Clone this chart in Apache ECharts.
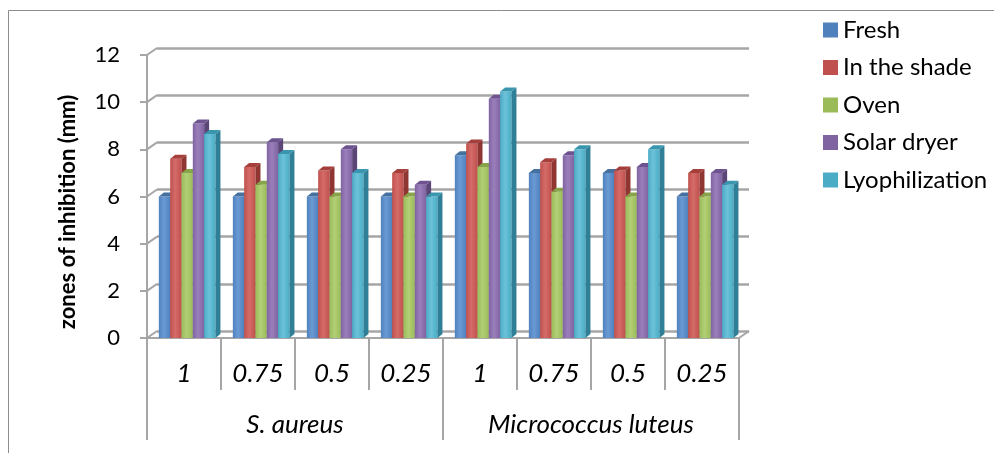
<!DOCTYPE html>
<html>
<head>
<meta charset="utf-8">
<script src="https://cdn.jsdelivr.net/npm/echarts@6/dist/echarts.min.js"></script>
<style>
html,body{margin:0;padding:0;background:#fff;}
#chart{width:994px;height:453px;}
</style>
</head>
<body>
<div id="chart"></div>
<script>
// categories
var concentrations = ['1', '0.75', '0.5', '0.25', '1', '0.75', '0.5', '0.25'];
var strains = ['S. aureus', 'Micrococcus luteus'];
var yTicks = [0, 2, 4, 6, 8, 10, 12];
// values (mm)
var fresh = [6, 6, 6, 6, 7.75, 7, 7, 6];
var shade = [7.6, 7.25, 7.1, 7, 8.25, 7.45, 7.1, 7];
var oven = [7, 6.5, 6, 6, 7.25, 6.2, 6, 6];
var solar = [9.1, 8.3, 8, 6.5, 10.15, 7.75, 7.25, 7];
var lyo = [8.65, 7.8, 7, 6, 10.45, 8, 8, 6.5];

var names = ['Fresh', 'In the shade', 'Oven', 'Solar dryer', 'Lyophilization'];
var values = [fresh, shade, oven, solar, lyo];
// face / light / side / top colours
var colors = [
    ['#4f81bd', '#6b9ad4', '#3a6291', '#45719f'],
    ['#c0504d', '#d46c69', '#8f3532', '#a63e3b'],
    ['#9bbb59', '#b2cf76', '#718b3c', '#87a44a'],
    ['#8064a2', '#9a7fbb', '#5c4678', '#6d5490'],
    ['#4bacc6', '#6cc2d9', '#2f8097', '#3a95ae']
];

var chart = echarts.init(document.getElementById('chart'));

var DX = 10, DY = -7;       // depth of the wall
var BDX = 5, BDY = -4;      // depth of one bar

function barItem(idx) {
    var c = colors[idx];
    return function (params, api) {
        var cat = api.value(0), val = api.value(1);
        var base = api.coord([cat, 0]);
        var tip = api.coord([cat, val]);
        var band = api.size([1, 0])[0];
        var bw = band * 0.153;
        var x0 = base[0] - band / 2 + band * 0.16 + idx * bw;
        var x1 = x0 + bw;
        var y0 = base[1], y1 = tip[1];
        return {
            type: 'group',
            children: [
                {type: 'rect', shape: {x: x0, y: y1, width: bw, height: y0 - y1},
                    style: {fill: new echarts.graphic.LinearGradient(0, 0, 1, 0, [
                        {offset: 0, color: c[0]}, {offset: 0.45, color: c[1]}, {offset: 1, color: c[0]}])}},
                {type: 'polygon', shape: {points: [[x1, y1], [x1 + BDX, y1 + BDY], [x1 + BDX, y0 + BDY], [x1, y0]]},
                    style: {fill: c[2]}},
                {type: 'polygon', shape: {points: [[x0, y1], [x0 + BDX, y1 + BDY], [x1 + BDX, y1 + BDY], [x1, y1]]},
                    style: {fill: c[3]}}
            ]
        };
    };
}

var series = names.map(function (n, i) {
    return {
        name: n,
        type: 'custom',
        xAxisIndex: 0,
        yAxisIndex: 0,
        itemStyle: {color: colors[i][0]},
        renderItem: barItem(i),
        data: values[i].map(function (v, k) { return [k, v]; }),
        z: 5
    };
});

// depth connectors of the left wall and the floor corner
series.push({
    type: 'custom',
    xAxisIndex: 0,
    yAxisIndex: 0,
    silent: true,
    z: 3,
    renderItem: function (params, api) {
        var v = api.value(0);
        var band = api.size([1, 0])[0];
        var p = api.coord([0, v]);
        var x = p[0] - band / 2;
        var kids = [{type: 'line', shape: {x1: x, y1: p[1], x2: x + DX, y2: p[1] + DY},
            style: {stroke: '#a6a6a6', lineWidth: 2}}];
        if (v === 0) {
            var q = api.coord([concentrations.length - 1, 0]);
            var xr = q[0] + band / 2;
            kids.push({type: 'line', shape: {x1: xr, y1: q[1], x2: xr + DX, y2: q[1] + DY},
                style: {stroke: '#a6a6a6', lineWidth: 2}});
        }
        return {type: 'group', children: kids};
    },
    data: yTicks.map(function (t) { return [t]; })
});

var option = {
    backgroundColor: '#fff',
    animation: false,
    textStyle: {fontFamily: 'Lato'},
    grid: [
        {left: 147, right: 255, top: 55, bottom: 115},   // front
        {left: 157, right: 245, top: 48, bottom: 122}    // back wall
    ],
    legend: {
        orient: 'vertical',
        left: 818,
        top: 13,
        itemWidth: 15,
        itemHeight: 15,
        itemGap: 13.5,
        icon: 'rect',
        textStyle: {fontSize: 24, color: '#000', fontFamily: 'Lato'},
        data: names
    },
    xAxis: [
        {
            type: 'category', gridIndex: 0, data: concentrations,
            axisLine: {show: true, lineStyle: {color: '#a6a6a6', width: 2}},
            axisTick: {show: true, length: 52, interval: 0, lineStyle: {color: '#a6a6a6', width: 2}},
            axisLabel: {margin: 23, fontSize: 26, fontStyle: 'italic', color: '#000', interval: 0}
        },
        {
            type: 'category', gridIndex: 0, data: strains, position: 'bottom',
            axisLine: {show: false},
            axisTick: {show: true, length: 102, interval: 0, lineStyle: {color: '#a6a6a6', width: 2}},
            axisLabel: {margin: 74, fontSize: 26, fontStyle: 'italic', color: '#000', interval: 0}
        },
        {
            type: 'category', gridIndex: 1, data: concentrations,
            axisLine: {show: false}, axisTick: {show: false}, axisLabel: {show: false}
        }
    ],
    yAxis: [
        {
            type: 'value', gridIndex: 0, min: 0, max: 12, interval: 2,
            axisLine: {show: true, lineStyle: {color: '#a6a6a6', width: 2}},
            axisTick: {show: true, length: 7, lineStyle: {color: '#a6a6a6', width: 2}},
            axisLabel: {margin: 27, fontSize: 22, color: '#000'},
            splitLine: {show: false}
        },
        {
            type: 'value', gridIndex: 1, min: 0, max: 12, interval: 2,
            axisLine: {show: false}, axisTick: {show: false}, axisLabel: {show: false},
            splitLine: {show: true, lineStyle: {color: '#a6a6a6', width: 2.5}}
        }
    ],
    graphic: [
        {type: 'rect', shape: {x: 8.5, y: 10.5, width: 1000, height: 500},
            style: {fill: 'none', stroke: '#8c8c8c', lineWidth: 1}, z: 0},
        {type: 'text', x: 68, y: 212, rotation: Math.PI / 2,
            style: {text: 'zones of inhibition (mm)', font: 'bold 22px Lato', fill: '#000',
                textAlign: 'center', textVerticalAlign: 'middle'}}
    ],
    series: series
};

chart.setOption(option);
</script>
</body>
</html>
